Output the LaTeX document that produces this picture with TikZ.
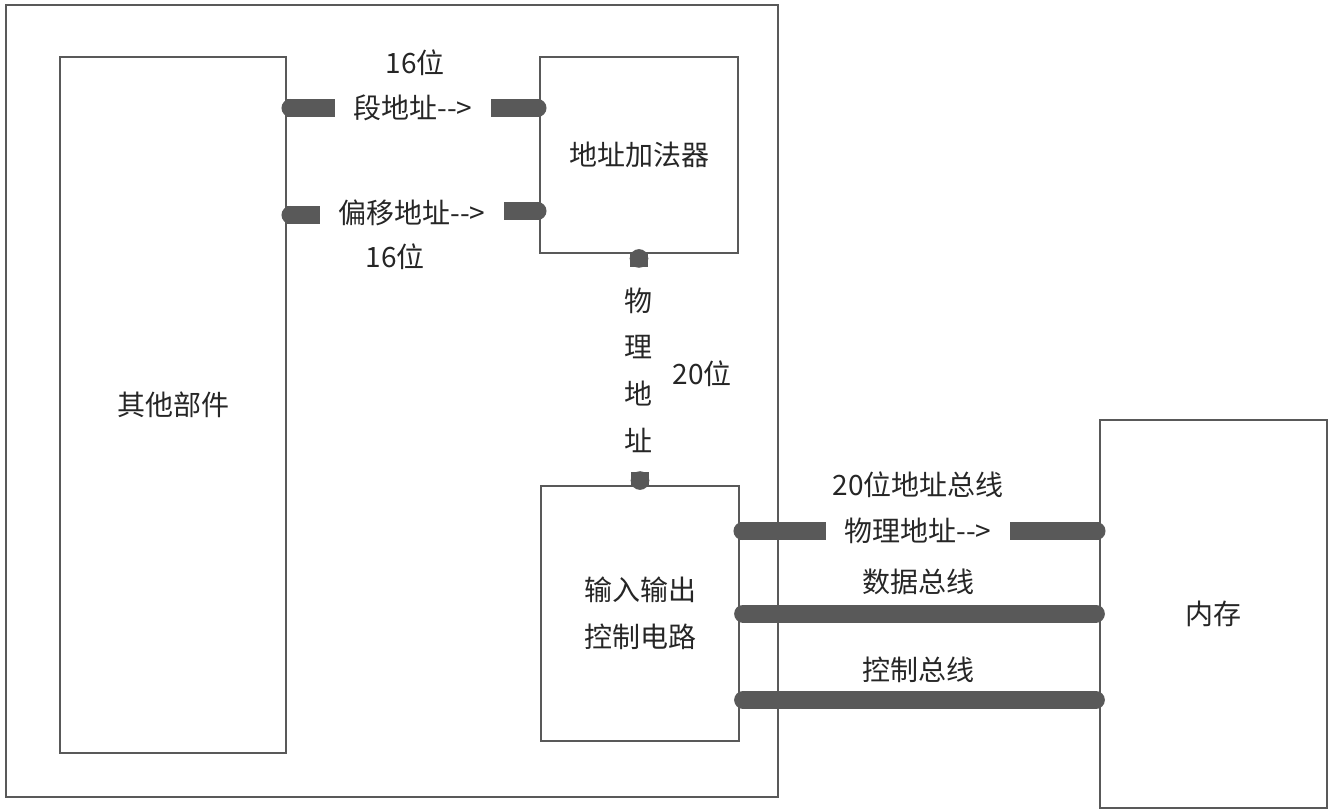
\documentclass[tikz,border=0pt]{standalone}
\usepackage{fontspec}
\setmainfont{Noto Sans CJK SC}
\usetikzlibrary{calc}
\definecolor{lc}{HTML}{595959}
\definecolor{tc}{HTML}{262626}
\begin{document}
\begin{tikzpicture}[x=0.75pt,y=-0.75pt,
  box/.style={draw=lc,line width=2.2pt,inner sep=0pt,text=tc,font=\fontsize{21}{25}\selectfont},
  lbl/.style={text=tc,font=\fontsize{21}{25}\selectfont,inner sep=2pt},
  gap/.style={inner xsep=14pt},
  bar/.style={draw=lc,line width=13.5pt},
  dot/.style={fill=lc}]
\useasboundingbox (0,0) rectangle (1334,812);
% boxes
\node[box,minimum width=579pt,minimum height=594pt] (outer) at (392,401) {};
\node[box,minimum width=169.5pt,minimum height=522pt] (other) at (173,405) {其他部件};
\node[box,minimum width=148.5pt,minimum height=147pt] (adder) at (639,155) {地址加法器};
\node[box,minimum width=148.5pt,minimum height=191.25pt,align=center,font=\fontsize{21}{35}\selectfont] (io) at (640,613.5) {输入输出\\控制电路};
\node[box,minimum width=170.25pt,minimum height=291pt] (mem) at (1213.5,614) {内存};
% labels
\node[lbl] (seg16) at (415,63) {16位};
\node[lbl,gap] (seg) at (413,108) {段地址-{}->};
\node[lbl,gap] (off) at (412,213) {偏移地址-{}->};
\node[lbl] (off16) at (395,257) {16位};
\node[lbl,align=center,font=\fontsize{21}{35}\selectfont] (phys) at (638,370) {物\\理\\地\\址};
\node[lbl] (p20) at (702,374) {20位};
\node[lbl] (abus) at (918,485) {20位地址总线};
\node[lbl,gap] (pa) at (918,531) {物理地址-{}->};
\node[lbl] (dbus) at (918,582) {数据总线};
\node[lbl] (cbus) at (918,670) {控制总线};
\coordinate (cy) at (0,700);
% segment address
\draw[bar] (other.east |- seg.west) -- (seg.west);
\fill[dot] ($(other.east |- seg.west)+(3,0)$) circle (6.75pt);
\draw[bar] (seg.east) -- (adder.west |- seg.east);
\fill[dot] ($(adder.west |- seg.east)+(-1,0)$) circle (6.75pt);
% offset address
\draw[bar] ($(other.east |- off.west)+(0,2)$) -- ($(off.west)+(0,2)$);
\fill[dot] ($(other.east |- off.west)+(3,2)$) circle (6.75pt);
\draw[bar] ($(off.east)+(0,-2)$) -- ($(adder.west |- off.east)+(0,-2)$);
\fill[dot] ($(adder.west |- off.east)+(-1,-2)$) circle (6.75pt);
% physical address (vertical)
\draw[bar] (adder.south) -- ++(0,13);
\fill[dot] ($(adder.south)+(0,4)$) circle (7pt);
\draw[bar] (io.north) -- ++(0,-13);
\fill[dot] ($(io.north)+(0,-4)$) circle (7pt);
% address bus
\draw[bar] (io.east |- pa.west) -- (pa.west);
\fill[dot] ($(io.east |- pa.west)+(2,0)$) circle (6.75pt);
\draw[bar] (pa.east) -- (mem.west |- pa.east);
\fill[dot] ($(mem.west |- pa.east)+(-2,0)$) circle (6.75pt);
% data bus
\draw[bar,line cap=round,shorten <=2pt,shorten >=2pt] (io.east) -- (mem.west |- io.east);
% control bus
\draw[bar,line cap=round,shorten <=2pt,shorten >=2pt] (io.east |- cy) -- (mem.west |- cy);
\end{tikzpicture}
\end{document}
